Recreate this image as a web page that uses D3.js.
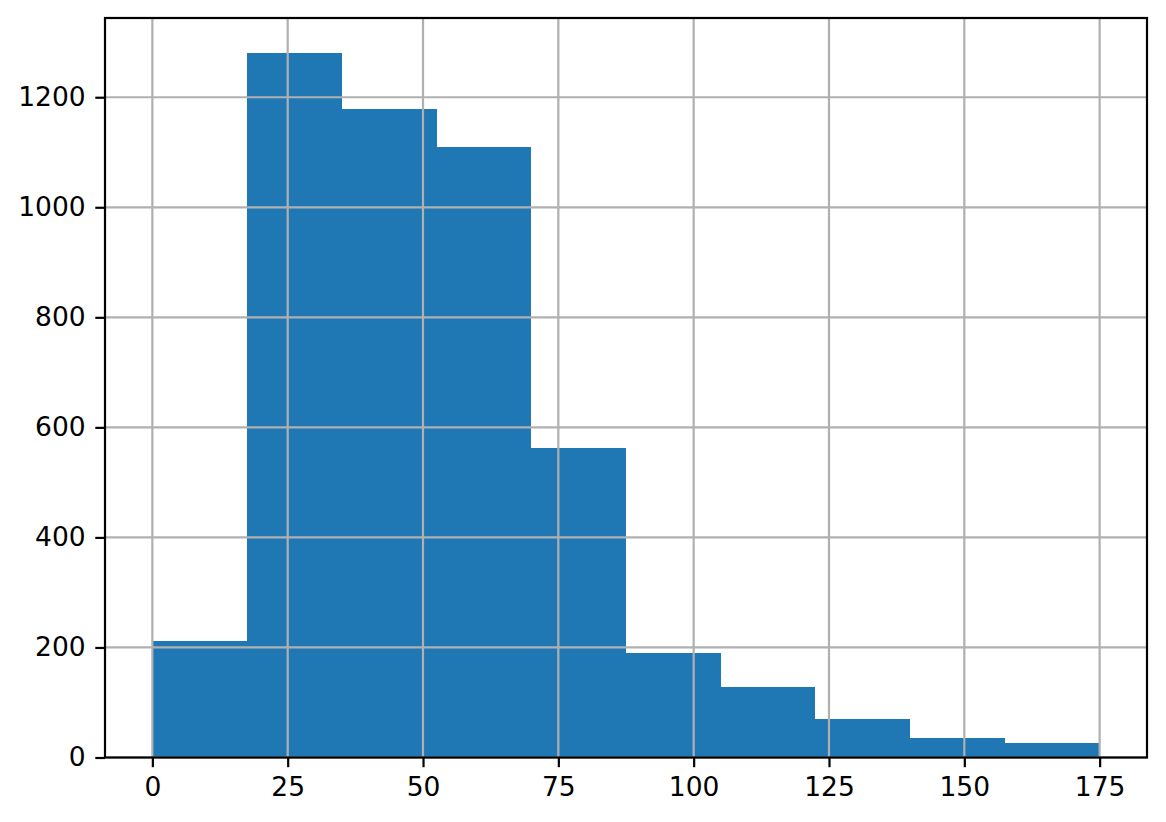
<!DOCTYPE html>
<html>
<head>
<meta charset="utf-8">
<script src="https://cdn.jsdelivr.net/npm/d3@7"></script>
<style>
  body { margin: 0; background: #fff; }
  svg text { font-family: 'DejaVu Sans', sans-serif; }
</style>
</head>
<body>
<svg id="chart" width="1166" height="822"></svg>
<script>
// histogram bins (edges) and counts
var binEdges = [0, 17.5, 35, 52.5, 70, 87.5, 105, 122.5, 140, 157.5, 175];
var counts = [212, 1280, 1178, 1109, 563, 190, 128, 70, 35, 26];
var xTicks = [0, 25, 50, 75, 100, 125, 150, 175];
var yTicks = [0, 200, 400, 600, 800, 1000, 1200];

// plot box (note: 'top' is taken by window.top, so prefix these)
var plotLeft = 105, plotRight = 1147, plotTop = 18, plotBottom = 757.5;
var lw = 2.2; // 0.8pt at 200dpi

var svg = d3.select('#chart');

// matplotlib style 5% margins
var span = binEdges[binEdges.length - 1] - binEdges[0];
var x = d3.scaleLinear()
  .domain([binEdges[0] - span * 0.05, binEdges[binEdges.length - 1] + span * 0.05])
  .range([plotLeft, plotRight]);

var y = d3.scaleLinear()
  .domain([0, d3.max(counts) * 1.05])
  .range([plotBottom, plotTop]);

var bins = counts.map(function(c, i){
  return { x0: binEdges[i], x1: binEdges[i + 1], n: c };
});

// bars (crisp edges so neighbouring bars don't show a seam)
svg.append('g')
  .attr('class', 'bars')
  .attr('shape-rendering', 'crispEdges')
  .selectAll('rect')
  .data(bins)
  .enter().append('rect')
    .attr('x', function(d){ return x(d.x0) })
    .attr('width', function(d){ return x(d.x1) - x(d.x0) })
    .attr('y', function(d){ return y(d.n) })
    .attr('height', function(d){ return y(0) - y(d.n) })
    .attr('fill', '#1f77b4');

// grid sits on top of the bars, like the original
var grid = svg.append('g').attr('class', 'grid')
  .attr('stroke', '#b0b0b0')
  .attr('stroke-width', lw);

grid.selectAll('line.vx')
  .data(xTicks)
  .enter().append('line')
    .attr('class', 'vx')
    .attr('x1', function(d){ return x(d) })
    .attr('x2', function(d){ return x(d) })
    .attr('y1', plotTop)
    .attr('y2', plotBottom);

grid.selectAll('line.hy')
  .data(yTicks)
  .enter().append('line')
    .attr('class', 'hy')
    .attr('x1', plotLeft)
    .attr('x2', plotRight)
    .attr('y1', function(d){ return y(d) })
    .attr('y2', function(d){ return y(d) });

// axes
var xAxis = d3.axisBottom(x)
  .tickValues(xTicks)
  .tickFormat(d3.format('d'))
  .tickSize(9.7)
  .tickPadding(9.7)
  .tickSizeOuter(0);

var yAxis = d3.axisLeft(y)
  .tickValues(yTicks)
  .tickFormat(d3.format('d'))
  .tickSize(9.7)
  .tickPadding(9.7)
  .tickSizeOuter(0);

var gx = svg.append('g')
  .attr('transform', 'translate(0,' + plotBottom + ')')
  .call(xAxis);

var gy = svg.append('g')
  .attr('transform', 'translate(' + plotLeft + ',0)')
  .call(yAxis);

[gx, gy].forEach(function(g){
  g.select('.domain').remove();
  g.attr('font-size', null).attr('font-family', null);
  g.selectAll('.tick line')
    .attr('stroke', '#000')
    .attr('stroke-width', lw);
  g.selectAll('.tick text')
    .attr('fill', '#000')
    .style('font-size', '26.5px')
    .style('font-family', "'DejaVu Sans', sans-serif");
});

// frame
svg.append('rect')
  .attr('x', plotLeft)
  .attr('y', plotTop)
  .attr('width', plotRight - plotLeft)
  .attr('height', plotBottom - plotTop)
  .attr('fill', 'none')
  .attr('stroke', '#000')
  .attr('stroke-width', lw);
</script>
</body>
</html>
